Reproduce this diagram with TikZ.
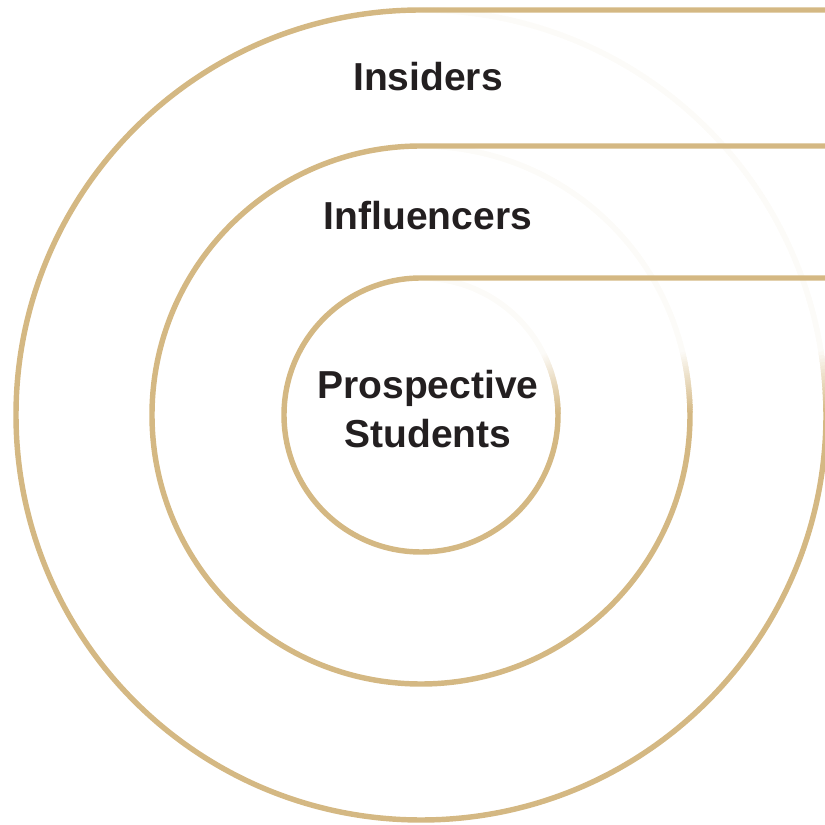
\documentclass[tikz,border=0pt]{standalone}
\usepackage{fontspec}
\setmainfont{Liberation Sans}
\usetikzlibrary{positioning}
\definecolor{gold}{RGB}{212,184,131}
\definecolor{ink}{RGB}{35,31,32}

\begin{document}
\begin{tikzpicture}[
  x=0.02cm, y=0.02cm,
  ring/.style={draw=gold, line width=3.1pt},
  ringlabel/.style={font=\bfseries\fontsize{22.2}{27.5}\selectfont, text=ink, align=center},
]
\useasboundingbox (0,0) rectangle (825,825);
\clip (0,0) rectangle (825,825);

\coordinate (c) at (421,410);

% fading upper right quarter of each ring
\foreach \r in {137,269,405}{
  \foreach \a in {0,0.5,...,89.5}{
    \pgfmathsetmacro\p{max(6,min(100,100-1.5*\r*(\a*0.017453)))}
    \draw[ring, draw=gold!\p!white] (c) ++(\a:\r) arc[start angle=\a, end angle=\a+0.8, radius=\r];
  }
}

% solid part of each ring, running out to the right edge
\foreach \r in {137,269,405}{
  \draw[ring] (c) ++(0:\r) arc[start angle=0, end angle=-270, radius=\r] -- (825,410+\r);
}

\node[ringlabel] (insiders) at (428,748) {Insiders};
\node[ringlabel] (influencers) at (428,609) {Influencers};
\node[ringlabel] (prospects) at (428,416) {Prospective\\Students};

\end{tikzpicture}
\end{document}
